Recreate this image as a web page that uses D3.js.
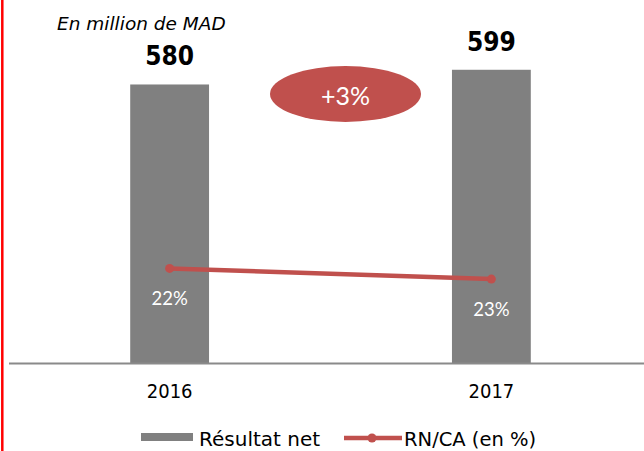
<!DOCTYPE html>
<html>
<head>
<meta charset="utf-8">
<script src="https://cdn.jsdelivr.net/npm/d3@7"></script>
<style>
  body { margin: 0; background: #fff; }
  svg { display: block; }
</style>
</head>
<body>
<div id="chart"></div>
<script>
// Chart data
var years = ['2016', '2017'];
var netResult = [580, 599];          // Résultat net, in million MAD
var rnCa = [22, 23];                 // RN/CA (en %)
var rnCaLabels = ['22%', '23%'];
var growthLabel = '+3%';
var unitLabel = 'En million de MAD';
var legendLabels = ['Résultat net', 'RN/CA (en %)'];

var WIDTH = 644, HEIGHT = 451;
var BAR_COLOR = '#808080',
    LINE_COLOR = '#c0504d';

var svg = d3.select('#chart').append('svg')
  .attr('width', WIDTH)
  .attr('height', HEIGHT);

// Scales
var x = d3.scaleBand().domain(years).range([8.75, 652.25]);
var y = d3.scaleLinear().domain([220, 600]).range([363, 69]);
// secondary axis for the ratio (reversed, as in the source)
var y2 = d3.scaleLinear().domain([0, 30]).range([33, 354]);
var barWidth = x.bandwidth() * 0.245;
var cx = function(d, i) { return x(years[i]) + x.bandwidth() / 2; };

// Red frame line on the left
svg.append('line')
  .attr('x1', 2.3).attr('x2', 2.3)
  .attr('y1', 0).attr('y2', HEIGHT)
  .attr('stroke', '#ff0000')
  .attr('stroke-width', 2.5);

// Bars
svg.selectAll('rect.bar')
  .data(netResult)
  .enter().append('rect')
  .attr('class', 'bar')
  .attr('x', function(d, i) { return cx(d, i) - barWidth / 2; })
  .attr('y', function(d) { return y(d); })
  .attr('width', barWidth)
  .attr('height', function(d) { return y.range()[0] - y(d); })
  .attr('fill', BAR_COLOR);

// Baseline
svg.append('line')
  .attr('x1', 9).attr('x2', WIDTH)
  .attr('y1', y.range()[0] + 0.5).attr('y2', y.range()[0] + 0.5)
  .attr('stroke', '#8a8a8a')
  .attr('stroke-width', 2);

// Category labels
svg.selectAll('text.year')
  .data(years)
  .enter().append('text')
  .attr('class', 'year')
  .attr('x', function(d, i) { return cx(d, i); })
  .attr('y', 398)
  .attr('text-anchor', 'middle')
  .style('font-family', '"DejaVu Sans Condensed", "DejaVu Sans", sans-serif')
  .style('font-size', '20px')
  .attr('fill', '#000')
  .text(function(d) { return d; });

// Bar value labels
svg.selectAll('text.value')
  .data(netResult)
  .enter().append('text')
  .attr('class', 'value')
  .attr('x', function(d, i) { return cx(d, i); })
  .attr('y', function(d) { return y(d) - 19; })
  .attr('text-anchor', 'middle')
  .style('font-family', '"DejaVu Sans Condensed", "DejaVu Sans", sans-serif')
  .style('font-weight', 'bold')
  .style('font-size', '26px')
  .attr('fill', '#000')
  .text(function(d) { return d; });

// Unit label
svg.append('text')
  .attr('x', 57).attr('y', 30)
  .style('font-family', '"DejaVu Sans", sans-serif')
  .style('font-style', 'italic')
  .style('font-size', '18.5px')
  .attr('fill', '#000')
  .text(unitLabel);

// Ratio line
var line = d3.line()
  .x(function(d, i) { return cx(d, i); })
  .y(function(d) { return y2(d); });

svg.append('path')
  .datum(rnCa)
  .attr('d', line)
  .attr('fill', 'none')
  .attr('stroke', LINE_COLOR)
  .attr('stroke-width', 4.5);

svg.selectAll('circle.pt')
  .data(rnCa)
  .enter().append('circle')
  .attr('class', 'pt')
  .attr('cx', function(d, i) { return cx(d, i); })
  .attr('cy', function(d) { return y2(d); })
  .attr('r', 4.5)
  .attr('fill', LINE_COLOR);

svg.selectAll('text.ratio')
  .data(rnCa)
  .enter().append('text')
  .attr('class', 'ratio')
  .attr('x', function(d, i) { return cx(d, i); })
  .attr('y', function(d) { return y2(d) + 37; })
  .attr('text-anchor', 'middle')
  .style('font-family', 'Lato, "Open Sans", sans-serif')
  .style('font-size', '18.5px')
  .attr('fill', '#fff')
  .text(function(d, i) { return rnCaLabels[i]; });

// Growth bubble
var bubble = svg.append('g').attr('transform', 'translate(345.5,94)');
bubble.append('ellipse')
  .attr('rx', 75.5).attr('ry', 28)
  .attr('fill', LINE_COLOR);
bubble.append('text')
  .attr('y', 11)
  .attr('text-anchor', 'middle')
  .style('font-family', 'Lato, "Open Sans", sans-serif')
  .style('font-size', '25px')
  .attr('fill', '#fff')
  .text(growthLabel);

// Legend
var legend = svg.append('g')
  .style('font-family', '"DejaVu Sans", sans-serif')
  .attr('fill', '#000');

legend.append('rect')
  .attr('x', 141).attr('y', 433)
  .attr('width', 52).attr('height', 8)
  .attr('fill', BAR_COLOR);
legend.append('text')
  .attr('x', 199).attr('y', 446)
  .style('font-size', '20px')
  .text(legendLabels[0]);

legend.append('line')
  .attr('x1', 344).attr('x2', 402)
  .attr('y1', 438).attr('y2', 438)
  .attr('stroke', LINE_COLOR)
  .attr('stroke-width', 4.5);
legend.append('circle')
  .attr('cx', 372).attr('cy', 438)
  .attr('r', 4.5)
  .attr('fill', LINE_COLOR);
legend.append('text')
  .attr('x', 404).attr('y', 446)
  .style('font-size', '19.5px')
  .text(legendLabels[1]);
</script>
</body>
</html>
